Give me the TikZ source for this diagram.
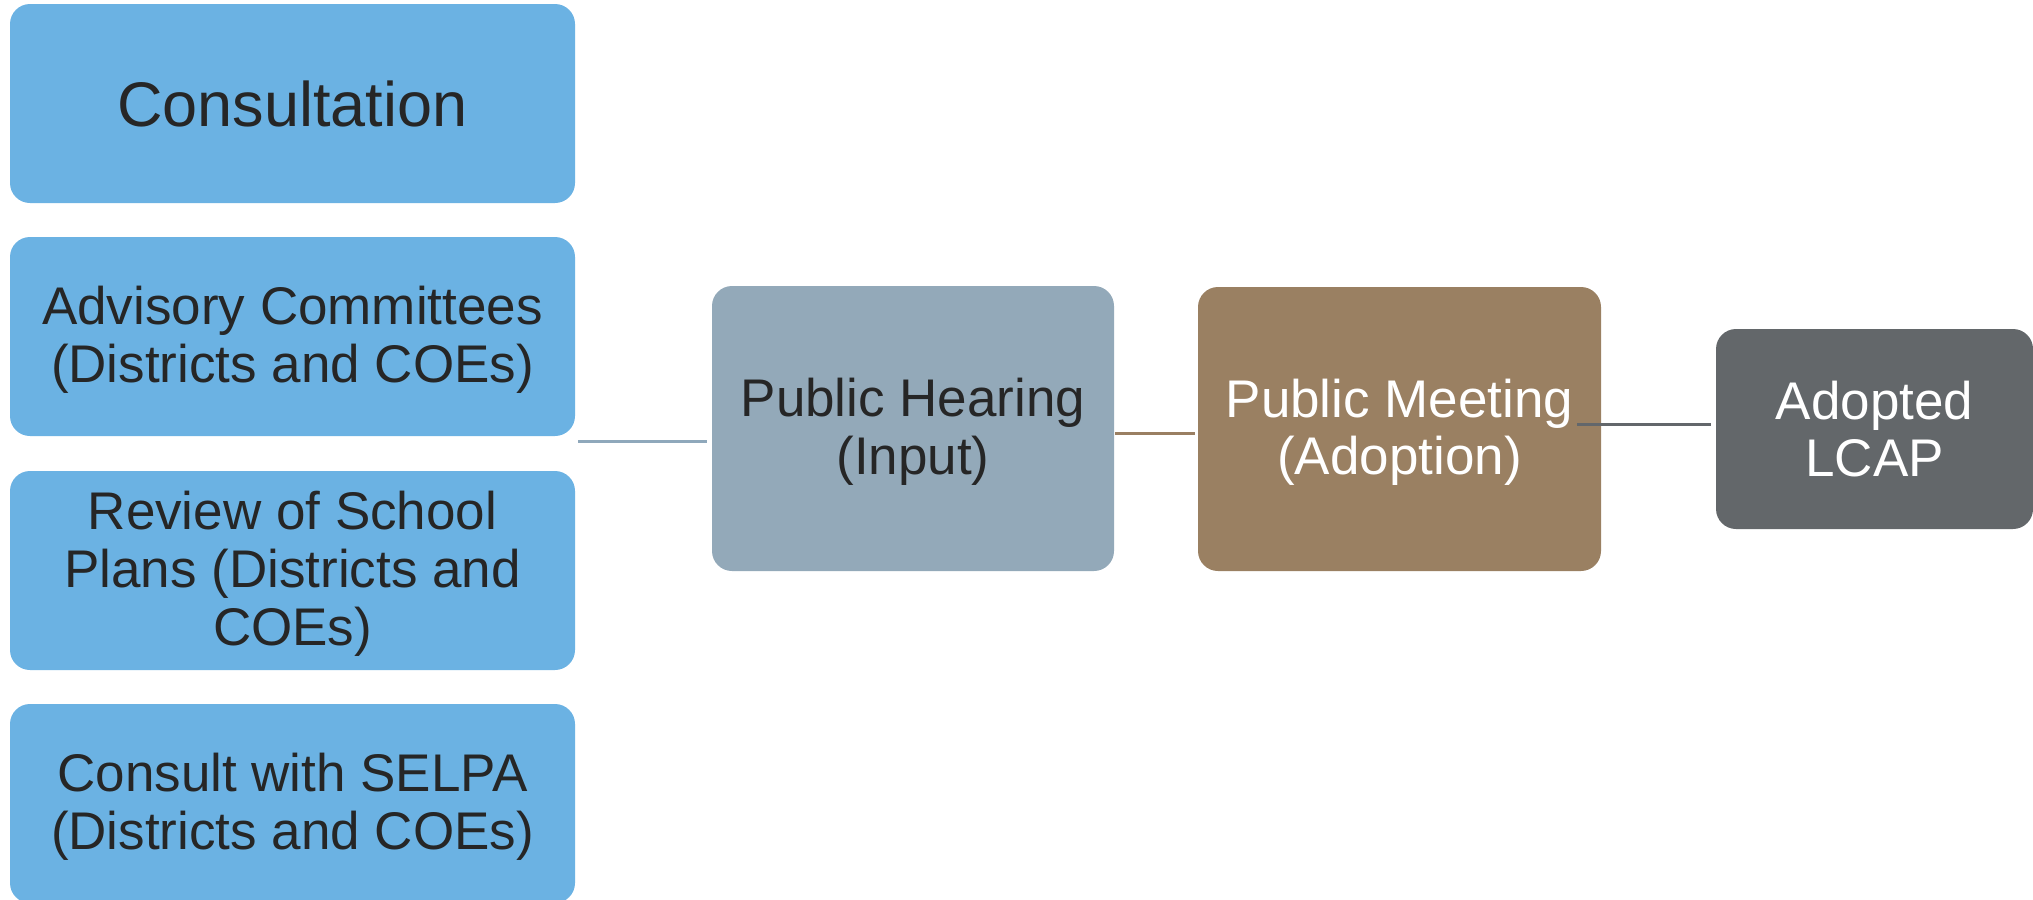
\documentclass[tikz,border=0pt]{standalone}
\usepackage{fontspec}
\setmainfont{Liberation Sans}
\definecolor{stepblue}{HTML}{6BB2E3}
\definecolor{hearing}{HTML}{93A9B9}
\definecolor{meeting}{HTML}{9A8062}
\definecolor{adopted}{HTML}{63676A}
\definecolor{inktext}{HTML}{262626}
\definecolor{linkblue}{HTML}{8FA8BB}
\definecolor{linkbrown}{HTML}{9A7F62}
\definecolor{linkgray}{HTML}{63676B}
% taller first line so the text block sits a little lower in its box
\newcommand{\firstline}{\rule{0pt}{11.2pt}}
\begin{document}
\begin{tikzpicture}[x=0.25pt,y=-0.25pt,
  box/.style={rounded corners=5pt, inner sep=0pt, align=center,
    font=\fontsize{13.25}{14.4}\selectfont},
  consult/.style={box, fill=stepblue, text=inktext,
    minimum width=141.25pt, minimum height=49.75pt},
  stage/.style={box, minimum width=100.5pt, minimum height=71.25pt},
  link/.style={line width=0.75pt}]
\useasboundingbox (0,0) rectangle (2033,899);
\clip (0,0) rectangle (2033,899);

% consultation column
\node[consult, font=\fontsize{15.75}{17}\selectfont] (cons) at (292.5,103.5) {Consultation};
\node[consult] (adv) at (292.5,336.5) {\firstline Advisory Committees\\(Districts and COEs)};
\node[consult] (rev) at (292.5,570.5) {\firstline Review of School\\Plans (Districts and\\COEs)};
\node[consult] (selpa) at (292.5,803.5) {\firstline Consult with SELPA\\(Districts and COEs)};

% process stages
\node[stage, fill=hearing, text=inktext] (hear) at (913,428.5) {\firstline Public Hearing\\(Input)};
\node[stage, fill=meeting, text=white, minimum width=100.75pt, minimum height=71pt] (meet) at (1399.5,429) {\firstline Public Meeting\\(Adoption)};
\node[box, fill=adopted, text=white, minimum width=79.25pt, minimum height=50pt] (lcap) at (1874.5,429) {Adopted\\LCAP};

% connectors
\coordinate (colout) at (578,441);
\coordinate (meetout) at (1577,424);
\draw[link, linkblue, shorten >=1pt] (colout) -- (colout -| hear.west);
\draw[link, linkbrown, shorten >=0.5pt] (hear.east |- 0,433) -- (meet.west |- 0,433);
\draw[link, linkgray, shorten >=1pt] (meetout) -- (meetout -| lcap.west);
\end{tikzpicture}
\end{document}
